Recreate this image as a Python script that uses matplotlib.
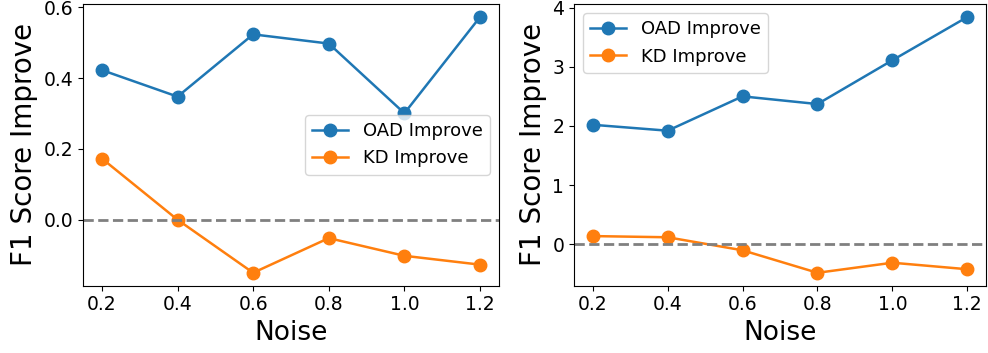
import matplotlib
matplotlib.use("Agg")
import matplotlib.pyplot as plt

noise = [0.2, 0.4, 0.6, 0.8, 1.0, 1.2]
tick_labels = ["0.2", "0.4", "0.6", "0.8", "1.0", "1.2"]

left_oad = [0.423, 0.348, 0.524, 0.498, 0.301, 0.573]
left_kd = [0.173, 0.0, -0.150, -0.052, -0.102, -0.127]

right_oad = [2.02, 1.92, 2.50, 2.37, 3.11, 3.84]
right_kd = [0.14, 0.12, -0.10, -0.48, -0.31, -0.42]

fig = plt.figure(figsize=(9.88, 3.53), dpi=100)
ax1 = fig.add_axes([0.084, 0.191, 0.421, 0.797])
ax2 = fig.add_axes([0.581, 0.191, 0.417, 0.797])

for ax, oad, kd in [(ax1, left_oad, left_kd), (ax2, right_oad, right_kd)]:
    ax.plot(noise, oad, marker='o', color='#1f77b4', lw=1.8, ms=9, label='OAD Improve')
    ax.plot(noise, kd, marker='o', color='#ff7f0e', lw=1.8, ms=9, label='KD Improve')
    ax.axhline(0, color='gray', ls='--', lw=2)
    ax.set_xticks(noise)
    ax.set_xticklabels(tick_labels)
    ax.tick_params(labelsize=13.5)
    ax.set_xlabel('Noise', fontsize=19)
    ax.set_ylabel('F1 Score Improve', fontsize=20)

ax1.set_yticks([0.0, 0.2, 0.4, 0.6])
ax1.legend(loc='center right', bbox_to_anchor=(1.0, 0.5), fontsize=13)
ax2.set_yticks([0, 1, 2, 3, 4])
ax2.legend(loc='upper left', fontsize=13)

fig.savefig('out.png', dpi=100)
